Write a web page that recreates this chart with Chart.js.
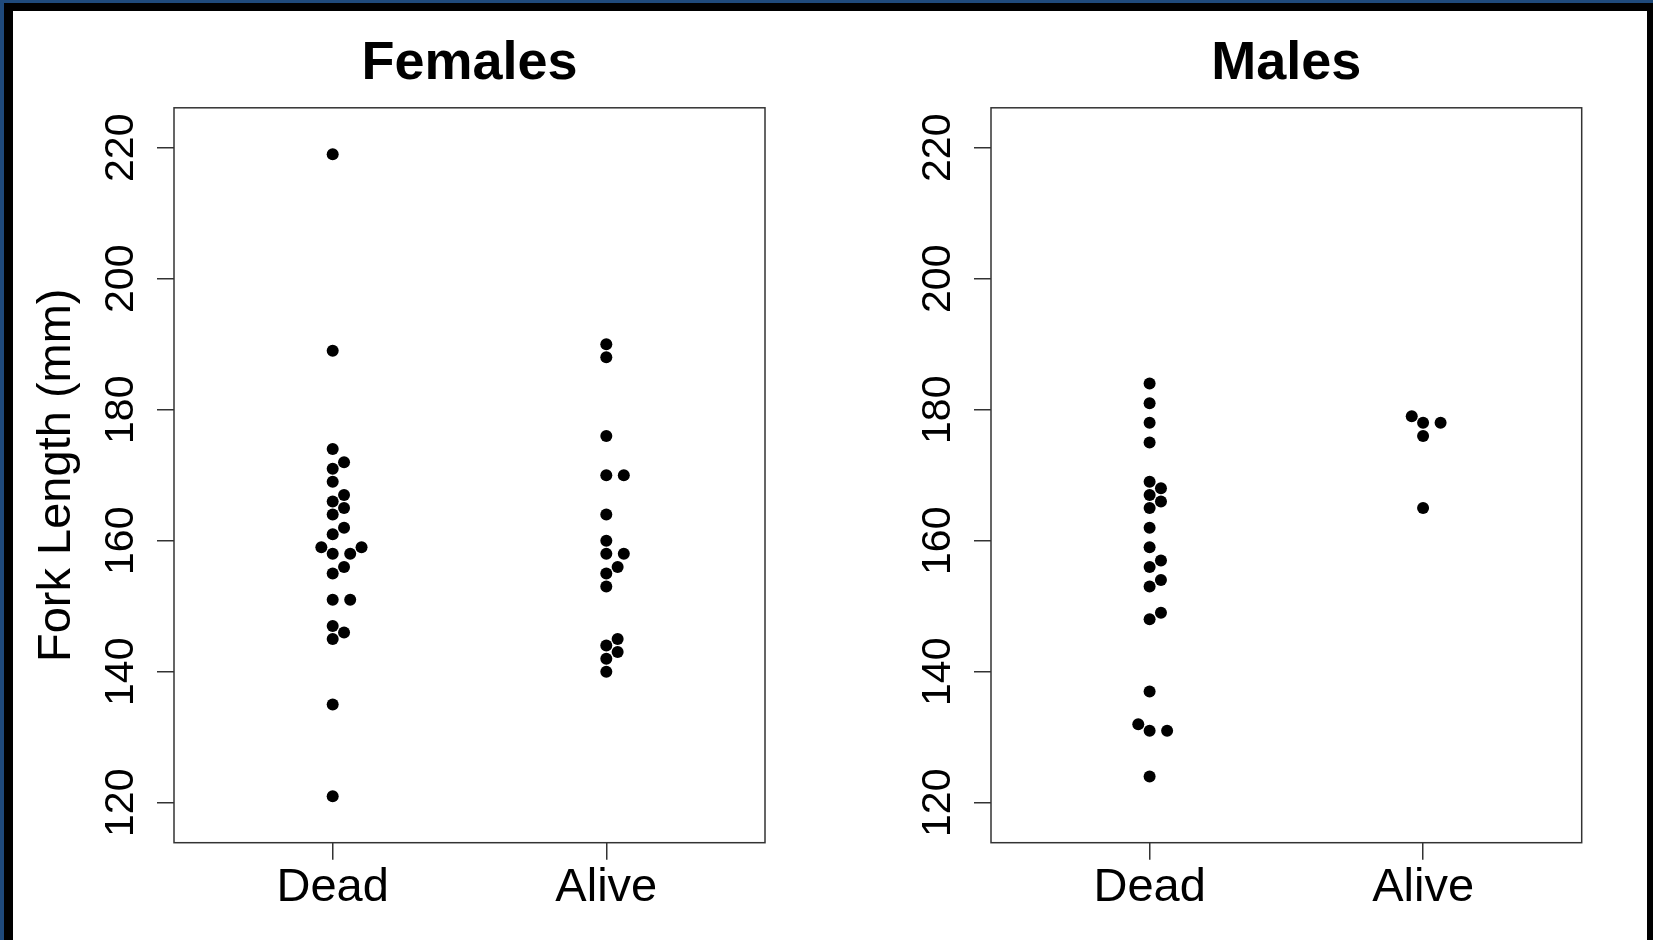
<!DOCTYPE html>
<html><head><meta charset="utf-8">
<script src="https://cdn.jsdelivr.net/npm/chart.js@4.4.1/dist/chart.umd.min.js"></script>
<style>
html,body{margin:0;padding:0;background:#fff;width:1653px;height:940px;overflow:hidden;position:relative}
.b{position:absolute}
canvas{position:absolute;top:0}
</style></head><body>
<div class="b" style="left:0;top:0;width:1653px;height:3px;background:#1f4a7c"></div>
<div class="b" style="left:0;top:0;width:4px;height:940px;background:#1f4a7c"></div>
<div class="b" style="left:4px;top:3px;width:1649px;height:8px;background:#000"></div>
<div class="b" style="left:4px;top:3px;width:9px;height:937px;background:#000"></div>
<div class="b" style="left:1647px;top:3px;width:6px;height:937px;background:#000"></div>
<canvas id="cF" width="827" height="940" style="left:0"></canvas>
<canvas id="cM" width="826" height="940" style="left:827px"></canvas>
<script>
// ---- data (fork length, mm) ----
const groups = ['Dead', 'Alive'];
const yTicks = [120, 140, 160, 180, 200, 220];
const femalesDead  = [219,189,174,172,171,169,167,166,165,164,162,161,159,159,158,158,156,155,151,151,147,146,145,135,121];
const femalesAlive = [190,188,176,170,170,164,160,158,158,156,155,153,145,144,143,142,140];
const malesDead    = [184,181,178,175,169,168,167,166,165,162,159,157,156,154,153,149,148,137,132,131,131,124];
const malesAlive   = [179,178,178,176,165];

// beeswarm ("swarm", ascending priority) placement around a group centre
function swarm(values, center, ax, by) {
  const order = values.map((v, i) => i).sort((a, b) => values[a] - values[b]);
  const placed = [];
  const out = new Array(values.length);
  for (const i of order) {
    const y = values[i];
    const near = placed.filter(p => Math.abs(p.y - y) < by);
    const cands = [0];
    near.forEach(p => {
      const d = (p.y - y) / by;
      const w = ax * Math.sqrt(1 - d * d);
      cands.push(p.dx + w, p.dx - w);
    });
    cands.sort((a, b) => (Math.abs(a) - Math.abs(b)) || (b - a));
    let dx = 0;
    for (const c of cands) {
      const ok = near.every(p => {
        const u = (c - p.dx) / ax, v = (y - p.y) / by;
        return u * u + v * v >= 1 - 1e-9;
      });
      if (ok) { dx = c; break; }
    }
    placed.push({ y, dx });
    out[i] = { x: center + dx, y };
  }
  return out;
}

const FONT = "'Liberation Sans', Arial, Helvetica, sans-serif";
Chart.defaults.font.family = FONT;
Chart.defaults.color = '#000';

const framePlugin = {
  id: 'frame',
  beforeDatasetsDraw(chart) {
    const { ctx, chartArea: a } = chart;
    ctx.save();
    ctx.strokeStyle = '#333';
    ctx.lineWidth = 1.5;
    ctx.strokeRect(a.left, a.top, a.right - a.left, a.bottom - a.top);
    ctx.restore();
  }
};

const SW_X = 0.064, SW_Y = 1.313;

function makeChart(id, title, dead, alive, showYTitle, yWidth, padRight) {
  return new Chart(document.getElementById(id), {
    type: 'scatter',
    data: {
      datasets: [
        { data: swarm(dead, 1, SW_X, SW_Y) },
        { data: swarm(alive, 2, SW_X, SW_Y) }
      ]
    },
    plugins: [framePlugin],
    options: {
      responsive: false,
      devicePixelRatio: 1,
      animation: false,
      layout: { padding: { left: 0, right: padRight, top: 0, bottom: 0 } },
      elements: { point: { radius: 6, hoverRadius: 6, backgroundColor: '#000', borderWidth: 0 } },
      plugins: {
        legend: { display: false },
        tooltip: { enabled: false },
        title: {
          display: true, text: title, fullSize: false, color: '#000',
          font: { family: FONT, size: 54, weight: 'bold' },
          padding: { top: 32, bottom: 11 }
        }
      },
      scales: {
        x: {
          type: 'linear', min: 0.42, max: 2.58,
          afterBuildTicks: s => { s.ticks = groups.map((g, i) => ({ value: i + 1 })); },
          afterFit: s => { s.height = 97.3; },
          ticks: {
            callback: v => groups[v - 1], autoSkip: false, maxRotation: 0,
            font: { family: FONT, size: 47 }, color: '#000', padding: 0
          },
          grid: { drawOnChartArea: false, drawTicks: true, tickLength: 17, color: '#333', lineWidth: 1.5 },
          border: { display: false }
        },
        y: {
          type: 'linear', min: 113.9, max: 226.1,
          afterBuildTicks: s => { s.ticks = yTicks.map(v => ({ value: v })); },
          afterFit: s => { s.width = yWidth; },
          ticks: {
            minRotation: 90, maxRotation: 90, crossAlign: 'center',
            font: { family: FONT, size: 41 }, color: '#000', padding: 1.3
          },
          title: {
            display: showYTitle, text: 'Fork Length (mm)', color: '#000',
            font: { family: FONT, size: 47 }, padding: { top: 29.3, bottom: 0 }
          },
          grid: { drawOnChartArea: false, drawTicks: true, tickLength: 17, color: '#333', lineWidth: 1.5 },
          border: { display: false }
        }
      }
    }
  });
}

makeChart('cF', 'Females', femalesDead, femalesAlive, true, 174, 62);
makeChart('cM', 'Males', malesDead, malesAlive, false, 164, 71.3);
</script>
</body></html>
